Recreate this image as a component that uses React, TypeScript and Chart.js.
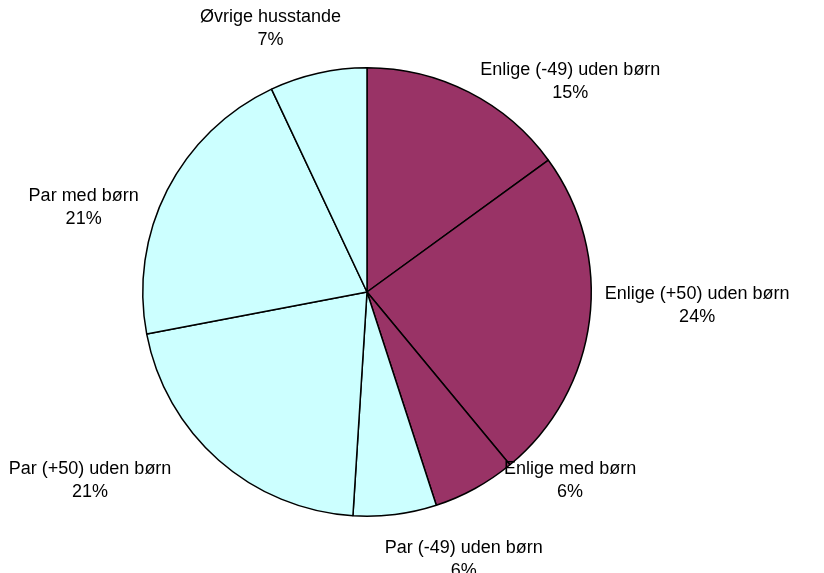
import { useEffect, useRef } from "react"
import { Chart, registerables } from "chart.js"

Chart.register(...registerables)

const labels = [
  "Enlige (-49) uden børn",
  "Enlige (+50) uden børn",
  "Enlige med børn",
  "Par (-49) uden børn",
  "Par (+50) uden børn",
  "Par med børn",
  "Øvrige husstande",
]
const values = [15, 24, 6, 6, 21, 21, 7]
const colors = ["#993366", "#993366", "#993366", "#CCFFFF", "#CCFFFF", "#CCFFFF", "#CCFFFF"]

// small hand nudges so the labels sit where Excel put them
const labelNudge: [number, number][] = [
  [55, 30], [4, -20], [56, -48], [57, 0], [-66, -14], [-20, 38], [-29, 0],
]

// draws "name\nNN%" outside each slice
const outsideLabels = {
  id: "outsideLabels",
  afterDraw(chart: Chart) {
    const ctx = chart.ctx
    const meta = chart.getDatasetMeta(0)
    ctx.save()
    ctx.fillStyle = "#000"
    ctx.textAlign = "center"
    ctx.textBaseline = "middle"
    meta.data.forEach((el: any, i: number) => {
      const mid = (el.startAngle + el.endAngle) / 2
      const r = el.outerRadius * 1.1
      ctx.font = "16px 'Liberation Sans', Arial, sans-serif"
      const w = ctx.measureText(labels[i]).width
      ctx.font = "18px 'Liberation Sans', Arial, sans-serif"
      const lh = 23
      const cx = el.x + Math.cos(mid) * r + Math.cos(mid) * (w / 2) + labelNudge[i][0]
      const cy = el.y + Math.sin(mid) * r + Math.sin(mid) * lh + labelNudge[i][1]
      ctx.fillText(labels[i], cx, cy - lh / 2)
      ctx.fillText(values[i] + "%", cx, cy + lh / 2)
    })
    ctx.restore()
  },
}

export default function App() {
  const chartRef = useRef<HTMLCanvasElement>(null)
  const chartInstance = useRef<Chart | null>(null)

  useEffect(() => {
    if (!chartRef.current) return
    if (chartInstance.current) chartInstance.current.destroy()
    const ctx = chartRef.current.getContext("2d")
    if (!ctx) return

    chartInstance.current = new Chart(ctx, {
      type: "pie",
      data: {
        labels,
        datasets: [
          {
            data: values,
            backgroundColor: colors,
            borderColor: "#000",
            borderWidth: 1.5,
          },
        ],
      },
      options: {
        responsive: false,
        animation: false,
        layout: { padding: { left: 0, right: 90, top: 67, bottom: 56 } },
        plugins: {
          legend: { display: false },
          tooltip: { enabled: false },
        },
      },
      plugins: [outsideLabels],
    })

    return () => {
      if (chartInstance.current) chartInstance.current.destroy()
    }
  }, [])

  return (
    <div style={{ position: "absolute", left: 0, top: 0, width: 824, height: 573, background: "#fff" }}>
      <canvas ref={chartRef} width={824} height={573} />
    </div>
  )
}
